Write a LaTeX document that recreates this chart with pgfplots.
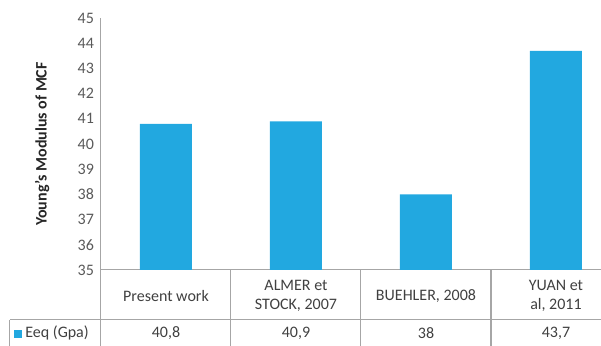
\documentclass[border=0pt]{standalone}
\usepackage{fontspec}
\setmainfont{Carlito}
\usepackage{pgfplots}
\pgfplotsset{compat=1.18}
\definecolor{barblue}{HTML}{22A8E0}
\definecolor{tickgray}{HTML}{595959}
\definecolor{linegray}{HTML}{A6A6A6}
\definecolor{txtgray}{HTML}{404040}
\begin{document}
\begin{tikzpicture}[font=\fontsize{8}{9.6}\selectfont]
\useasboundingbox (-50.5pt,-38pt) rectangle (250pt,135pt);
\clip (-50.5pt,-38pt) rectangle (250pt,135pt);
\begin{axis}[
  at={(0pt,0pt)}, anchor=south west,
  scale only axis, width=260pt, height=126pt,
  xmin=-0.5, xmax=3.5, ymin=35, ymax=45,
  ytick={35,36,...,45},
  xtick={0,1,2,3},
  xticklabels={Present work, {ALMER et\\STOCK, 2007}, {BUEHLER, 2008}, {YUAN et\\al, 2011}},
  xticklabel style={align=center, anchor=center, yshift=-13pt, text=txtgray, font=\fontsize{8}{9.6}\selectfont},
  yticklabel style={text=tickgray, font=\fontsize{8}{9.6}\selectfont},
  /pgf/number format/assume math mode=true,
  major tick length=0pt,
  axis lines*=left,
  axis line style={linegray, line width=0.5pt},
  ylabel={\bfseries Young's Modulus of MCF},
  ylabel style={at={(axis description cs:-0.113,0.5)}, anchor=center, text=black!85, font=\fontsize{8}{9.6}\selectfont},
  ybar, bar width=26pt,
  clip=false,
]
\addplot[fill=barblue, draw=none] coordinates {(0,40.8) (1,40.9) (2,38) (3,43.7)};
\end{axis}
% data table grid
\draw[linegray, line width=0.5pt] (0pt,0pt) -- (0pt,-38pt);
\draw[linegray, line width=0.5pt] (65pt,0pt) -- (65pt,-38pt);
\draw[linegray, line width=0.5pt] (130pt,0pt) -- (130pt,-38pt);
\draw[linegray, line width=0.5pt] (195pt,0pt) -- (195pt,-38pt);
\draw[linegray, line width=0.5pt] (-45.5pt,-25pt) -- (260pt,-25pt);
\draw[linegray, line width=0.5pt] (-45.5pt,-25pt) -- (-45.5pt,-38pt);
\fill[barblue] (-43.5pt,-33.8pt) rectangle (-39.5pt,-29.8pt);
\node[anchor=west, text=txtgray, inner sep=0pt] at (-38pt,-31.5pt) {Eeq (Gpa)};
\node[text=txtgray] at (32.5pt,-31.5pt) {40,8};
\node[text=txtgray] at (97.5pt,-31.5pt) {40,9};
\node[text=txtgray] at (162.5pt,-31.5pt) {38};
\node[text=txtgray] at (227.5pt,-31.5pt) {43,7};
\end{tikzpicture}
\end{document}
